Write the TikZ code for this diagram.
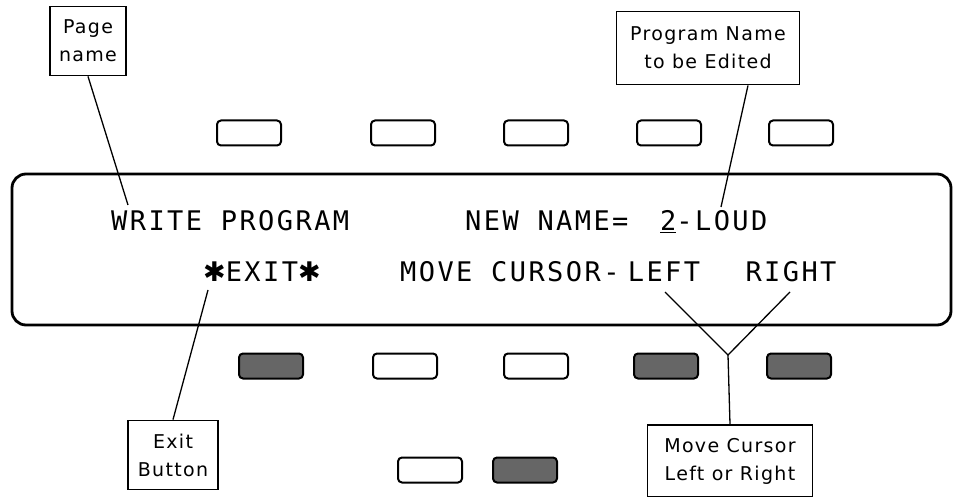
\documentclass[tikz,border=0pt]{standalone}
\usepackage{fontspec}
\usepackage{tikz}
\usetikzlibrary{calc}

\newfontfamily\lcdfont[LetterSpace=9]{DejaVu Sans Mono}
\newfontfamily\lblfont[LetterSpace=7]{DejaVu Sans}
\newfontfamily\starfont{DejaVu Sans}

\tikzset{
  keybtn/.style={draw, line width=2pt, rounded corners=4pt, minimum width=64pt,
    minimum height=25pt, inner sep=0pt},
  keyon/.style={keybtn, fill=black!60},
  lcd/.style={font=\lcdfont\fontsize{27}{30}\selectfont, inner sep=0pt},
  lblbox/.style={draw, line width=1.8pt, align=center, inner sep=2pt,
    font=\lblfont\fontsize{19}{28}\selectfont},
  conn/.style={line width=1.3pt}
}

\begin{document}
\begin{tikzpicture}[x=1pt,y=-1pt]
\useasboundingbox (0,0) rectangle (954,497);

% display panel
\draw[line width=2.8pt, rounded corners=14pt] (12,174) rectangle (951,325);

% soft keys above the display
\foreach \x [count=\i] in {249,403,536,669,801}
  \node[keybtn] (top\i) at (\x,133) {};

% soft keys below the display (lit ones shaded)
\foreach \x/\s [count=\i] in {271/keyon,405/keybtn,536/keybtn,666/keyon,799/keyon}
  \node[\s] (bot\i) at (\x,366) {};

% extra pair at the bottom
\node[keybtn] (low1) at (430,470) {};
\node[keyon] (low2) at (525,470) {};

% display text, first line
\node[lcd, anchor=base west] (wprog) at (111,231) {WRITE PROGRAM};
\node[lcd, anchor=base west] (newname) at (465,231) {NEW NAME=};
\node[lcd, anchor=base west] (pname) at (660,231) {\underline{2}-LOUD};

% display text, second line
\node[lcd, anchor=base west] (exitkey) at (203,282) {{\starfont ✱}EXIT{\starfont ✱}};
\node[lcd, anchor=base west] (movecur) at (400,282) {MOVE CURSOR-};
\node[lcd, anchor=base] (leftkey) at (664,282) {LEFT};
\node[lcd, anchor=base] (rightkey) at (791,282) {RIGHT};

% callout boxes
\node[lblbox, minimum width=76pt, minimum height=69pt] (pgname) at (88,41) {Page\\name};
\node[lblbox, minimum width=183pt, minimum height=73pt] (prgname) at (708,48) {Program Name\\to be Edited};
\node[lblbox, minimum width=90pt, minimum height=69pt] (exitlbl) at (173,455) {Exit\\Button};
\node[lblbox, minimum width=165pt, minimum height=72pt] (movelbl) at (730,461) {Move Cursor\\Left or Right};

% free ends of the callout lines
\coordinate (pgtip) at (128,205);
\coordinate (nametip) at (721,207);
\coordinate (exittip) at (208,290);
\coordinate (lefttip) at (665,292);
\coordinate (righttip) at (790,292);
\coordinate (fork) at (728,355);

% callout lines
\draw[conn] (pgname.south) -- (pgtip);
\draw[conn] ($(prgname.south)+(40,0)$) -- (nametip);
\draw[conn] (exitlbl.north) -- (exittip);
\draw[conn] (lefttip) -- (fork) -- (righttip);
\draw[conn] (movelbl.north) -- (fork);

\end{tikzpicture}
\end{document}
